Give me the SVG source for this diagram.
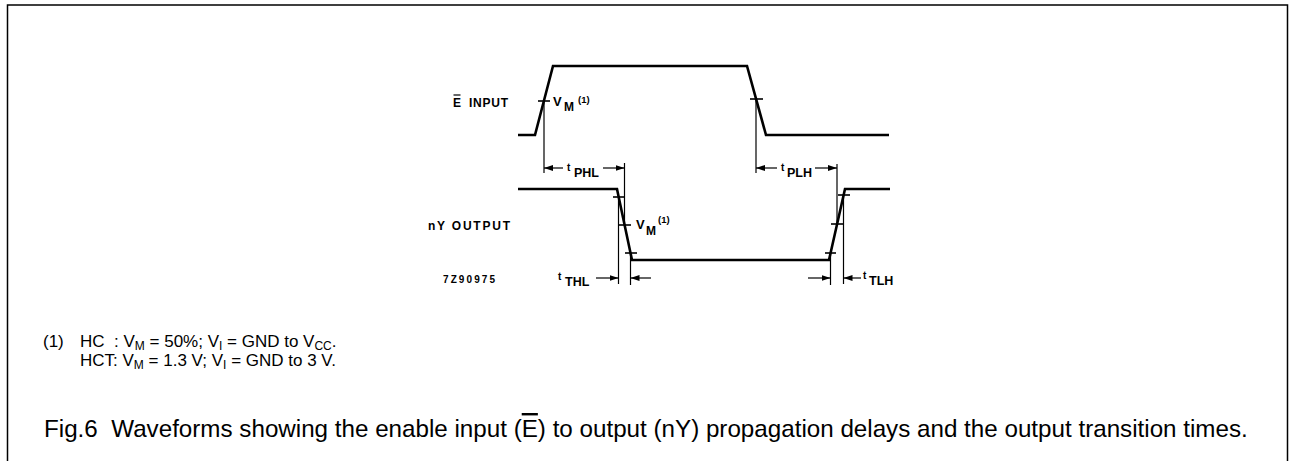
<svg xmlns="http://www.w3.org/2000/svg" width="1293" height="461" viewBox="0 0 1293 461">
<style>
.wave{fill:none;stroke:#000;stroke-width:2.6;stroke-linejoin:miter}
.thin{fill:none;stroke:#000;stroke-width:1.2}
.tick{stroke:#000;stroke-width:1.6}
.lbl{font-family:"Liberation Sans",Arial,sans-serif;font-weight:bold;fill:#000}
.note{font-family:"Liberation Sans",Arial,sans-serif;fill:#000}
</style>
<defs>
<marker id="ah" markerWidth="10" markerHeight="8" refX="9" refY="4" orient="auto" markerUnits="userSpaceOnUse">
<path d="M0,1 L9,4 L0,7 Z" fill="#000"/>
</marker>
</defs>
<rect width="1293" height="461" fill="#fff"/>
<path d="M7.5,461 V5 H1287.5 V461" fill="none" stroke="#000" stroke-width="1.5"/>

<g id="input-wave">
<path class="wave" d="M518,135 H535 L553,66 H747 L766,135 H889"/>
<line class="tick" x1="538" y1="101" x2="550" y2="101"/>
<line class="tick" x1="750" y1="99" x2="763" y2="99"/>
</g>

<g id="output-wave">
<path class="wave" d="M518,189 H617 L632,260 H829 L845,189 H890"/>
<line class="tick" x1="613" y1="197" x2="624" y2="197"/>
<line class="tick" x1="619" y1="225" x2="631" y2="225"/>
<line class="tick" x1="625" y1="253" x2="637" y2="253"/>
<line class="tick" x1="825" y1="253" x2="836" y2="253"/>
<line class="tick" x1="831" y1="224" x2="843" y2="224"/>
<line class="tick" x1="838" y1="195" x2="850" y2="195"/>
</g>

<g id="connectors">
<line class="thin" x1="544" y1="101" x2="544" y2="173"/>
<line class="thin" x1="756" y1="99" x2="756" y2="173"/>
<line class="thin" x1="624.5" y1="163" x2="624.5" y2="225"/>
<line class="thin" x1="837" y1="164" x2="837" y2="224"/>
<line class="thin" x1="618.5" y1="197" x2="618.5" y2="284"/>
<line class="thin" x1="630.5" y1="253" x2="630.5" y2="285"/>
<line class="thin" x1="830.5" y1="253" x2="830.5" y2="285"/>
<line class="thin" x1="843.5" y1="195" x2="843.5" y2="284"/>
<line class="thin" x1="563" y1="168" x2="544" y2="168" marker-end="url(#ah)"/>
<line class="thin" x1="603" y1="168" x2="624.5" y2="168" marker-end="url(#ah)"/>
<line class="thin" x1="777" y1="168" x2="756" y2="168" marker-end="url(#ah)"/>
<line class="thin" x1="815" y1="168" x2="837" y2="168" marker-end="url(#ah)"/>
<line class="thin" x1="596" y1="278" x2="618.5" y2="278" marker-end="url(#ah)"/>
<line class="thin" x1="651" y1="278" x2="630.5" y2="278" marker-end="url(#ah)"/>
<line class="thin" x1="808" y1="278" x2="830.5" y2="278" marker-end="url(#ah)"/>
<line class="thin" x1="861" y1="278" x2="843.5" y2="278" marker-end="url(#ah)"/>
</g>

<g id="labels">
<text class="lbl" x="453" y="107" font-size="12">E</text>
<line x1="453.5" y1="95" x2="460.5" y2="95" stroke="#000" stroke-width="1.2"/>
<text class="lbl" x="469" y="107" font-size="12" textLength="39" lengthAdjust="spacing">INPUT</text>
<text class="lbl" x="428" y="230" font-size="12" textLength="82" lengthAdjust="spacing">nY OUTPUT</text>
<text class="lbl" x="443" y="283" font-size="10" textLength="52" lengthAdjust="spacing">7Z90975</text>

<text class="lbl" x="553" y="106" font-size="13">V</text>
<text class="lbl" x="564" y="111" font-size="12">M</text>
<text class="lbl" x="578" y="103" font-size="9.5">(1)</text>

<text class="lbl" x="636" y="229" font-size="13">V</text>
<text class="lbl" x="646" y="235" font-size="12">M</text>
<text class="lbl" x="658" y="223" font-size="9.5">(1)</text>

<text class="lbl" x="567" y="171" font-size="10">t</text>
<text class="lbl" x="574" y="177" font-size="12.5">PHL</text>
<text class="lbl" x="781" y="171" font-size="10">t</text>
<text class="lbl" x="787" y="177" font-size="12.5">PLH</text>
<text class="lbl" x="558" y="280" font-size="10">t</text>
<text class="lbl" x="565" y="286" font-size="12.5">THL</text>
<text class="lbl" x="863" y="279" font-size="10">t</text>
<text class="lbl" x="869" y="285" font-size="12.5">TLH</text>
</g>

<g id="footnote" class="note" font-size="17">
<text x="43" y="347">(1)</text>
<text x="80" y="347" xml:space="preserve">HC  : V<tspan font-size="12" dy="3">M</tspan><tspan dy="-3"> = 50%; V</tspan><tspan font-size="12" dy="3">I</tspan><tspan dy="-3"> = GND to V</tspan><tspan font-size="12" dy="3">CC</tspan><tspan dy="-3">.</tspan></text>
<text x="80" y="366" xml:space="preserve">HCT: V<tspan font-size="12" dy="3">M</tspan><tspan dy="-3"> = 1.3 V; V</tspan><tspan font-size="12" dy="3">I</tspan><tspan dy="-3"> = GND to 3 V.</tspan></text>
</g>

<g id="caption" class="note">
<text x="44" y="437" font-size="24.2" xml:space="preserve">Fig.6  Waveforms showing the enable input (<tspan style="text-decoration:overline">E</tspan>) to output (nY) propagation delays and the output transition times.</text>
</g>
</svg>
